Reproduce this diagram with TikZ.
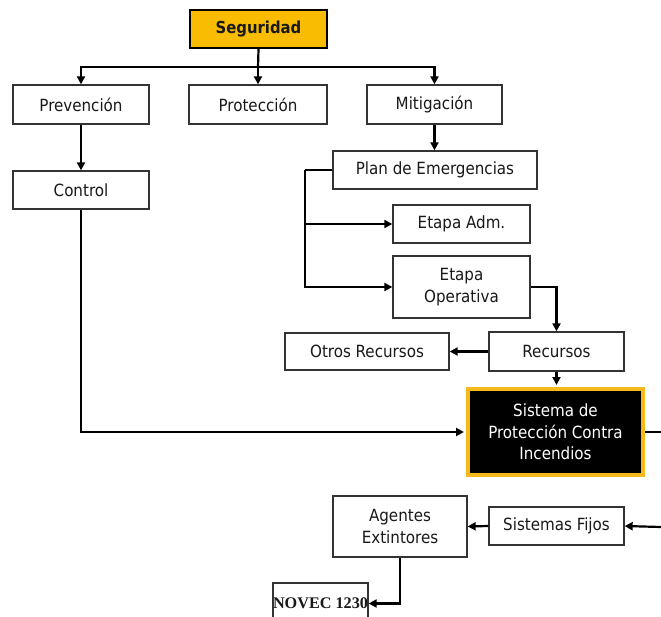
\documentclass[tikz,border=0pt]{standalone}
\usepackage{fontspec}
\setmainfont{DejaVu Sans Condensed}
\newfontfamily\serifbold{Liberation Serif}
\usetikzlibrary{arrows.meta}
\definecolor{segorange}{HTML}{F9BC00}
\definecolor{sisorange}{HTML}{F5B91A}
\begin{document}
\begin{tikzpicture}[x=1pt,y=-1pt,
  every node/.style={inner sep=0pt,align=center,font=\fontsize{16.8}{21.5}\selectfont,text=black!90},
  plainbox/.style={draw=black!80,line width=1.3pt,fill=white},
  segbox/.style={draw=black,line width=2.4pt,fill=segorange,font=\fontsize{16.5}{20}\selectfont\bfseries},
  sisbox/.style={draw=sisorange,line width=4pt,fill=black,text=white},
  conn/.style={draw=black,line width=2.2pt},
  arr/.style={conn,-{Triangle[length=8pt,width=8pt]}}]
\useasboundingbox (0,0) rectangle (661,617);
\clip (0,0) rectangle (661,617);
% nodes
\node[segbox,minimum width=137,minimum height=38] (seg) at (258.5,29) {Seguridad};
\node[plainbox,minimum width=136,minimum height=39] (prev) at (81,104.5) {Prevención};
\node[plainbox,minimum width=138,minimum height=39] (prot) at (258,104.5) {Protección};
\node[plainbox,minimum width=135,minimum height=39] (mit) at (434.5,104.5) {Mitigación};
\node[plainbox,minimum width=136,minimum height=38] (ctrl) at (81,190) {Control};
\node[plainbox,minimum width=204,minimum height=38] (plan) at (435,170) {Plan de Emergencias};
\node[plainbox,minimum width=137,minimum height=38] (adm) at (461.5,224) {Etapa Adm.};
\node[plainbox,minimum width=137,minimum height=62] (oper) at (461.5,287) {Etapa\\Operativa};
\node[plainbox,minimum width=135,minimum height=39] (rec) at (556.5,351.5) {Recursos};
\node[plainbox,minimum width=164,minimum height=37] (otros) at (367,351.5) {Otros Recursos};
\node[sisbox,minimum width=175,minimum height=86] (sis) at (555.5,432) {Sistema de\\Protección Contra\\Incendios};
\node[plainbox,minimum width=134,minimum height=61] (agen) at (400,526.5) {Agentes\\Extintores};
\node[plainbox,minimum width=135,minimum height=38] (fijos) at (556.5,526) {Sistemas Fijos};
\node[plainbox,minimum width=95,minimum height=41,font=\serifbold\fontsize{16.2}{18}\selectfont\bfseries] (novec) at (320.5,603.5) {NOVEC 1230};
% free ends
\coordinate (bus) at (258,67);
\coordinate (pl) at (305,170);
\coordinate (e1) at (661,432);
\coordinate (e2) at (661,527);
% connectors
\draw[conn] (seg.south) -- (bus);
\draw[arr] (bus) -| (prev.north);
\draw[arr] (bus) -- (prot.north);
\draw[arr] (bus) -| (mit.north);
\draw[arr] (prev.south) -- (ctrl.north);
\draw[arr] (mit.south) -- (mit.south |- plan.north);
\draw[conn] (plan.west) -- (pl);
\draw[arr] (pl) |- (oper.west);
\draw[arr] (pl |- adm.west) -- (adm.west);
\draw[arr] (oper.east) -| (rec.north);
\draw[arr] (rec.west) -- (otros.east);
\draw[arr,shorten >=2pt] (rec.south) -- (rec.south |- sis.north);
\draw[arr,shorten >=2pt] (ctrl.south) |- (sis.west);
\draw[conn] (sis.east) -- (e1);
\draw[arr] (e2) -- (fijos.east);
\draw[arr] (fijos.west) -- (agen.east);
\draw[arr] (agen.south) |- (novec.east);
\end{tikzpicture}
\end{document}
